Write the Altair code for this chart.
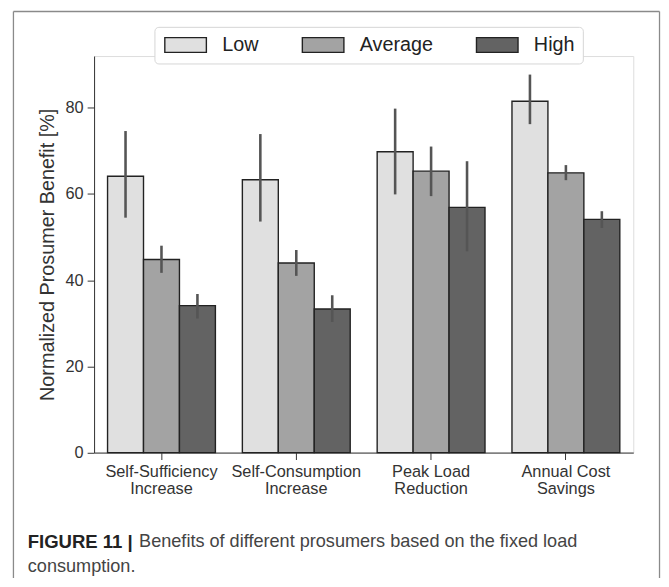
import altair as alt
import pandas as pd

# ---- data ----
categories = ["Self-Sufficiency\nIncrease", "Self-Consumption\nIncrease",
              "Peak Load\nReduction", "Annual Cost\nSavings"]
levels = ["Low", "Average", "High"]
colors = ["#e0e0e0", "#a3a3a3", "#636363"]

mean_low = [64.1, 63.3, 69.8, 81.5]
mean_avg = [44.8, 44.0, 65.3, 64.9]
mean_high = [34.1, 33.3, 56.9, 54.1]

ci_lo_low = [54.5, 53.6, 59.9, 76.2]
ci_hi_low = [74.6, 73.9, 79.8, 87.7]
ci_lo_avg = [41.7, 41.0, 59.5, 63.2]
ci_hi_avg = [48.0, 47.0, 71.0, 66.7]
ci_lo_high = [31.1, 30.3, 46.7, 52.1]
ci_hi_high = [36.8, 36.5, 67.6, 56.0]

y_ticks = [0, 20, 40, 60, 80]
y_title = "Normalized Prosumer Benefit [%]"
caption_bold = "FIGURE 11 |"
caption_line1 = "Benefits of different prosumers based on the fixed load"
caption_line2 = "consumption."

rows = []
for lvl, means, los, his in [
    ("Low", mean_low, ci_lo_low, ci_hi_low),
    ("Average", mean_avg, ci_lo_avg, ci_hi_avg),
    ("High", mean_high, ci_lo_high, ci_hi_high),
]:
    for c, m, lo, hi in zip(categories, means, los, his):
        rows.append({"category": c, "level": lvl, "value": m, "lo": lo, "hi": hi})
df = pd.DataFrame(rows)

FONT = "Liberation Sans, Arial, Helvetica, sans-serif"

x_enc = alt.X(
    "category:N",
    sort=categories,
    scale=alt.Scale(paddingInner=0.2, paddingOuter=0.1),
    axis=alt.Axis(
        title=None, labelAngle=0, labelExpr="split(datum.label, '\\n')",
        labelFontSize=16.5, labelLineHeight=17, labelPadding=4,
        tickSize=7, tickColor="#333", domainColor="#333", labelColor="#333",
        labelFont=FONT,
    ),
)
xo_enc = alt.XOffset("level:N", sort=levels, scale=alt.Scale(domain=levels))

y_scale = alt.Scale(domain=[0, 92], nice=False)

bars = alt.Chart(df).mark_bar(stroke="#222", strokeWidth=1.4).encode(
    x=x_enc,
    xOffset=xo_enc,
    y=alt.Y(
        "value:Q", scale=y_scale,
        axis=alt.Axis(
            title=y_title, values=y_ticks, grid=False, tickSize=7,
            tickColor="#333", domainColor="#333", labelColor="#333",
            labelFontSize=16.5, labelPadding=4, labelFont=FONT,
            titleFont=FONT, titleFontSize=20, titleFontWeight="normal",
            titleColor="#333", titleX=-47, titleY=200.4, titleAngle=270,
            titleAlign="center", titleBaseline="middle",
        ),
    ),
    color=alt.Color(
        "level:N", sort=levels,
        scale=alt.Scale(domain=levels, range=colors),
        legend=alt.Legend(
            title=None, orient="none", legendX=61, legendY=-29.5,
            direction="horizontal",
            symbolType="M-2.8,-1H2.8V1H-2.8Z", symbolSize=225,
            symbolOffset=13.5,
            symbolStrokeColor="#222", symbolStrokeWidth=1.4, symbolOpacity=1,
            labelFont=FONT, labelFontSize=20, labelColor="#222",
            labelOffset=27, columnPadding=40, padding=8,
            strokeColor="#d6d6d6", fillColor="white", cornerRadius=4,
        ),
    ),
)

errs = alt.Chart(df).mark_rule(color="#555", strokeWidth=2.6).encode(
    x=alt.X("category:N", sort=categories),
    xOffset=xo_enc,
    y=alt.Y("lo:Q", scale=y_scale),
    y2="hi:Q",
)

cap_df = pd.DataFrame({"b": [caption_bold], "l1": [caption_line1], "l2": [caption_line2]})
cap_bold = alt.Chart(cap_df).mark_text(
    align="left", baseline="middle", font=FONT, fontSize=18.7,
    fontWeight="bold", color="#222",
).encode(x=alt.value(-67), y=alt.value(491), text="b:N")
cap_l1 = alt.Chart(cap_df).mark_text(
    align="left", baseline="middle", font=FONT, fontSize=18.3, color="#444",
).encode(x=alt.value(45.5), y=alt.value(491), text="l1:N")
cap_l2 = alt.Chart(cap_df).mark_text(
    align="left", baseline="middle", font=FONT, fontSize=18.3, color="#444",
).encode(x=alt.value(-67), y=alt.value(516), text="l2:N")

frame_left = alt.Chart(cap_df).mark_rule(color="#8a8a8a", strokeWidth=1.3).encode(
    x=alt.value(-81.5), y=alt.value(-45), y2=alt.value(560))
frame_right = alt.Chart(cap_df).mark_rule(color="#8a8a8a", strokeWidth=1.3).encode(
    x=alt.value(571.5), y=alt.value(-45), y2=alt.value(560))
frame_top = alt.Chart(cap_df).mark_rule(color="#8a8a8a", strokeWidth=1.3).encode(
    x=alt.value(-81.5), x2=alt.value(571.5), y=alt.value(-45))

chart = alt.layer(
    bars, errs, cap_bold, cap_l1, cap_l2, frame_left, frame_right, frame_top
).properties(
    width=545, height=400.8,
    autosize=alt.AutoSizeParams(type="none"),
    padding={"left": 87, "top": 45.5, "right": 28, "bottom": 124},
).configure_view(
    stroke="#333", strokeWidth=1.3
).configure(background="white")

chart.save("out.html", embed_options={"renderer": "svg", "actions": False})
